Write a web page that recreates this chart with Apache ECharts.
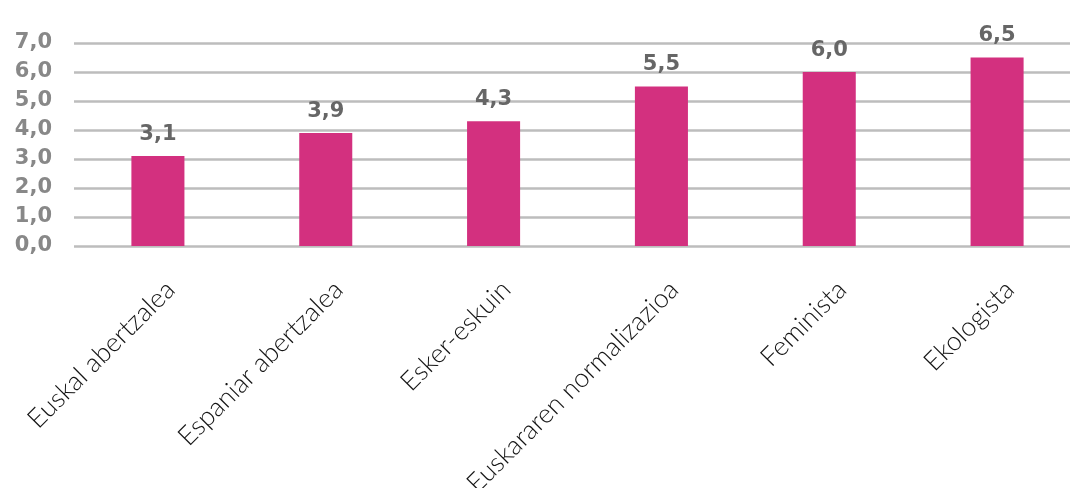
<!DOCTYPE html>
<html>
<head>
<meta charset="utf-8">
<script src="https://cdn.jsdelivr.net/npm/echarts@6/dist/echarts.min.js"></script>
<style>
html,body{margin:0;padding:0;background:#fff;overflow:hidden;width:1070px;height:488px;}
#chart{width:1081px;height:488px;}
</style>
</head>
<body>
<div id="chart"></div>
<script>
const categories = ['Euskal abertzalea', 'Espaniar abertzalea', 'Esker-eskuin', 'Euskararen normalizazioa', 'Feminista', 'Ekologista'];
const values = [3.1, 3.9, 4.3, 5.5, 6.0, 6.5];
const yTicks = { min: 0, max: 7, interval: 1 };

const fmt = v => v.toFixed(1).replace('.', ',');

const chart = echarts.init(document.getElementById('chart'), null, { renderer: 'canvas' });
chart.setOption({
  animation: false,
  grid: { left: 74, right: 0, top: 43, bottom: 242, containLabel: false, outerBoundsMode: 'none' },
  xAxis: {
    type: 'category',
    data: categories,
    axisLine: { show: false },
    axisTick: { show: false },
    axisLabel: {
      rotate: 45,
      interval: 0,
      margin: 52,
      padding: [0, -18, 0, 0],
      fontFamily: 'Lato',
      fontWeight: 300,
      fontSize: 26.5,
      color: '#141414'
    }
  },
  yAxis: {
    type: 'value',
    min: yTicks.min,
    max: yTicks.max,
    interval: yTicks.interval,
    axisLine: { show: false },
    axisTick: { show: false },
    axisLabel: {
      margin: 22,
      fontFamily: 'DejaVu Sans',
      fontSize: 21,
      fontWeight: 'bold',
      color: '#888888',
      formatter: fmt
    },
    splitLine: { lineStyle: { color: '#bdbdbd', width: 2.5 } }
  },
  series: [{
    type: 'bar',
    data: values,
    barWidth: '31.6%',
    itemStyle: { color: '#d3307f' },
    label: {
      show: true,
      position: 'top',
      distance: 11,
      fontFamily: 'DejaVu Sans',
      fontSize: 21,
      fontWeight: 'bold',
      color: '#666666',
      formatter: p => fmt(p.value)
    }
  }]
});
</script>
</body>
</html>
